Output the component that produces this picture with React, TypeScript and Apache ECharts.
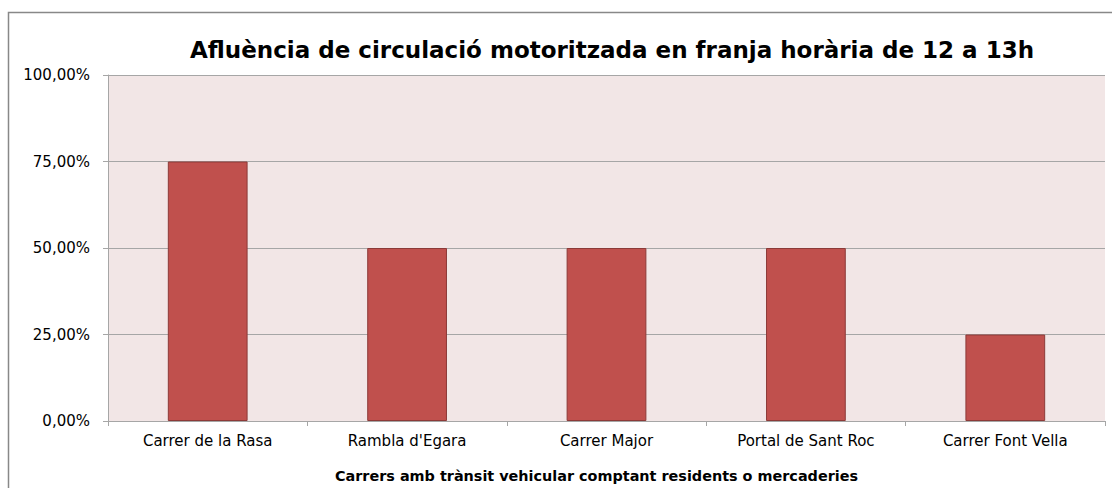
import React, { useEffect, useRef } from "react";
import * as echarts from "echarts";

const categories = ["Carrer de la Rasa", "Rambla d'Egara", "Carrer Major", "Portal de Sant Roc", "Carrer Font Vella"];
const values = [75, 50, 50, 50, 25];
const yTicks = [0, 25, 50, 75, 100];
const titleText = "Afluència de circulació motoritzada en franja horària de 12 a 13h";
const xAxisTitle = "Carrers amb trànsit vehicular comptant residents o mercaderies";

export default function App() {
  const ref = useRef<HTMLDivElement>(null);
  useEffect(() => {
    const chart = echarts.init(ref.current!, null, { renderer: "svg" });
    const font = "'DejaVu Sans', Verdana, sans-serif";
    chart.setOption({
      animation: false,
      backgroundColor: "#ffffff",
      title: {
        text: titleText,
        left: 607,
        top: 33,
        textAlign: "center",
        textStyle: { fontFamily: font, fontSize: 23, fontWeight: "bold", color: "#000" },
      },
      graphic: [
        {
          type: "rect",
          shape: { x: 8.5, y: 12.5, width: 1120, height: 500 },
          style: { fill: "none", stroke: "#888888", lineWidth: 1.5 },
          silent: true,
        },
      ],
      grid: {
        left: 108,
        right: 7,
        top: 75,
        bottom: 67,
        show: true,
        backgroundColor: "#F2E6E6",
        borderWidth: 0,
      },
      xAxis: {
        type: "category",
        data: categories,
        boundaryGap: true,
        name: xAxisTitle,
        nameLocation: "middle",
        nameGap: 48,
        nameTextStyle: {
          fontFamily: font,
          fontSize: 14.4,
          fontWeight: "bold",
          color: "#000",
          padding: [0, 20, 0, 0],
        },
        axisLine: { show: true, lineStyle: { color: "#A6A6A6", width: 1 } },
        axisTick: { show: true, alignWithLabel: false, length: 5, lineStyle: { color: "#A6A6A6" } },
        axisLabel: { fontFamily: font, fontSize: 15, color: "#000", margin: 12 },
        splitLine: { show: false },
      },
      yAxis: {
        type: "value",
        min: yTicks[0],
        max: yTicks[yTicks.length - 1],
        interval: 25,
        axisLine: { show: true, lineStyle: { color: "#A6A6A6", width: 1 } },
        axisTick: { show: true, length: 5, lineStyle: { color: "#A6A6A6" } },
        axisLabel: {
          fontFamily: font,
          fontSize: 15,
          color: "#000",
          margin: 18,
          formatter: (v: number) => v.toFixed(2).replace(".", ",") + "%",
        },
        splitLine: { show: true, lineStyle: { color: "#A6A6A6", width: 1 } },
      },
      series: [
        {
          type: "bar",
          data: values,
          barWidth: "40%",
          itemStyle: { color: "#C0504D", borderColor: "#8C3A38", borderWidth: 1 },
        },
      ],
    });
    return () => chart.dispose();
  }, []);
  return (
    <div
      ref={ref}
      style={{ position: "fixed", left: 0, top: 0, width: 1112, height: 488 }}
    />
  );
}
